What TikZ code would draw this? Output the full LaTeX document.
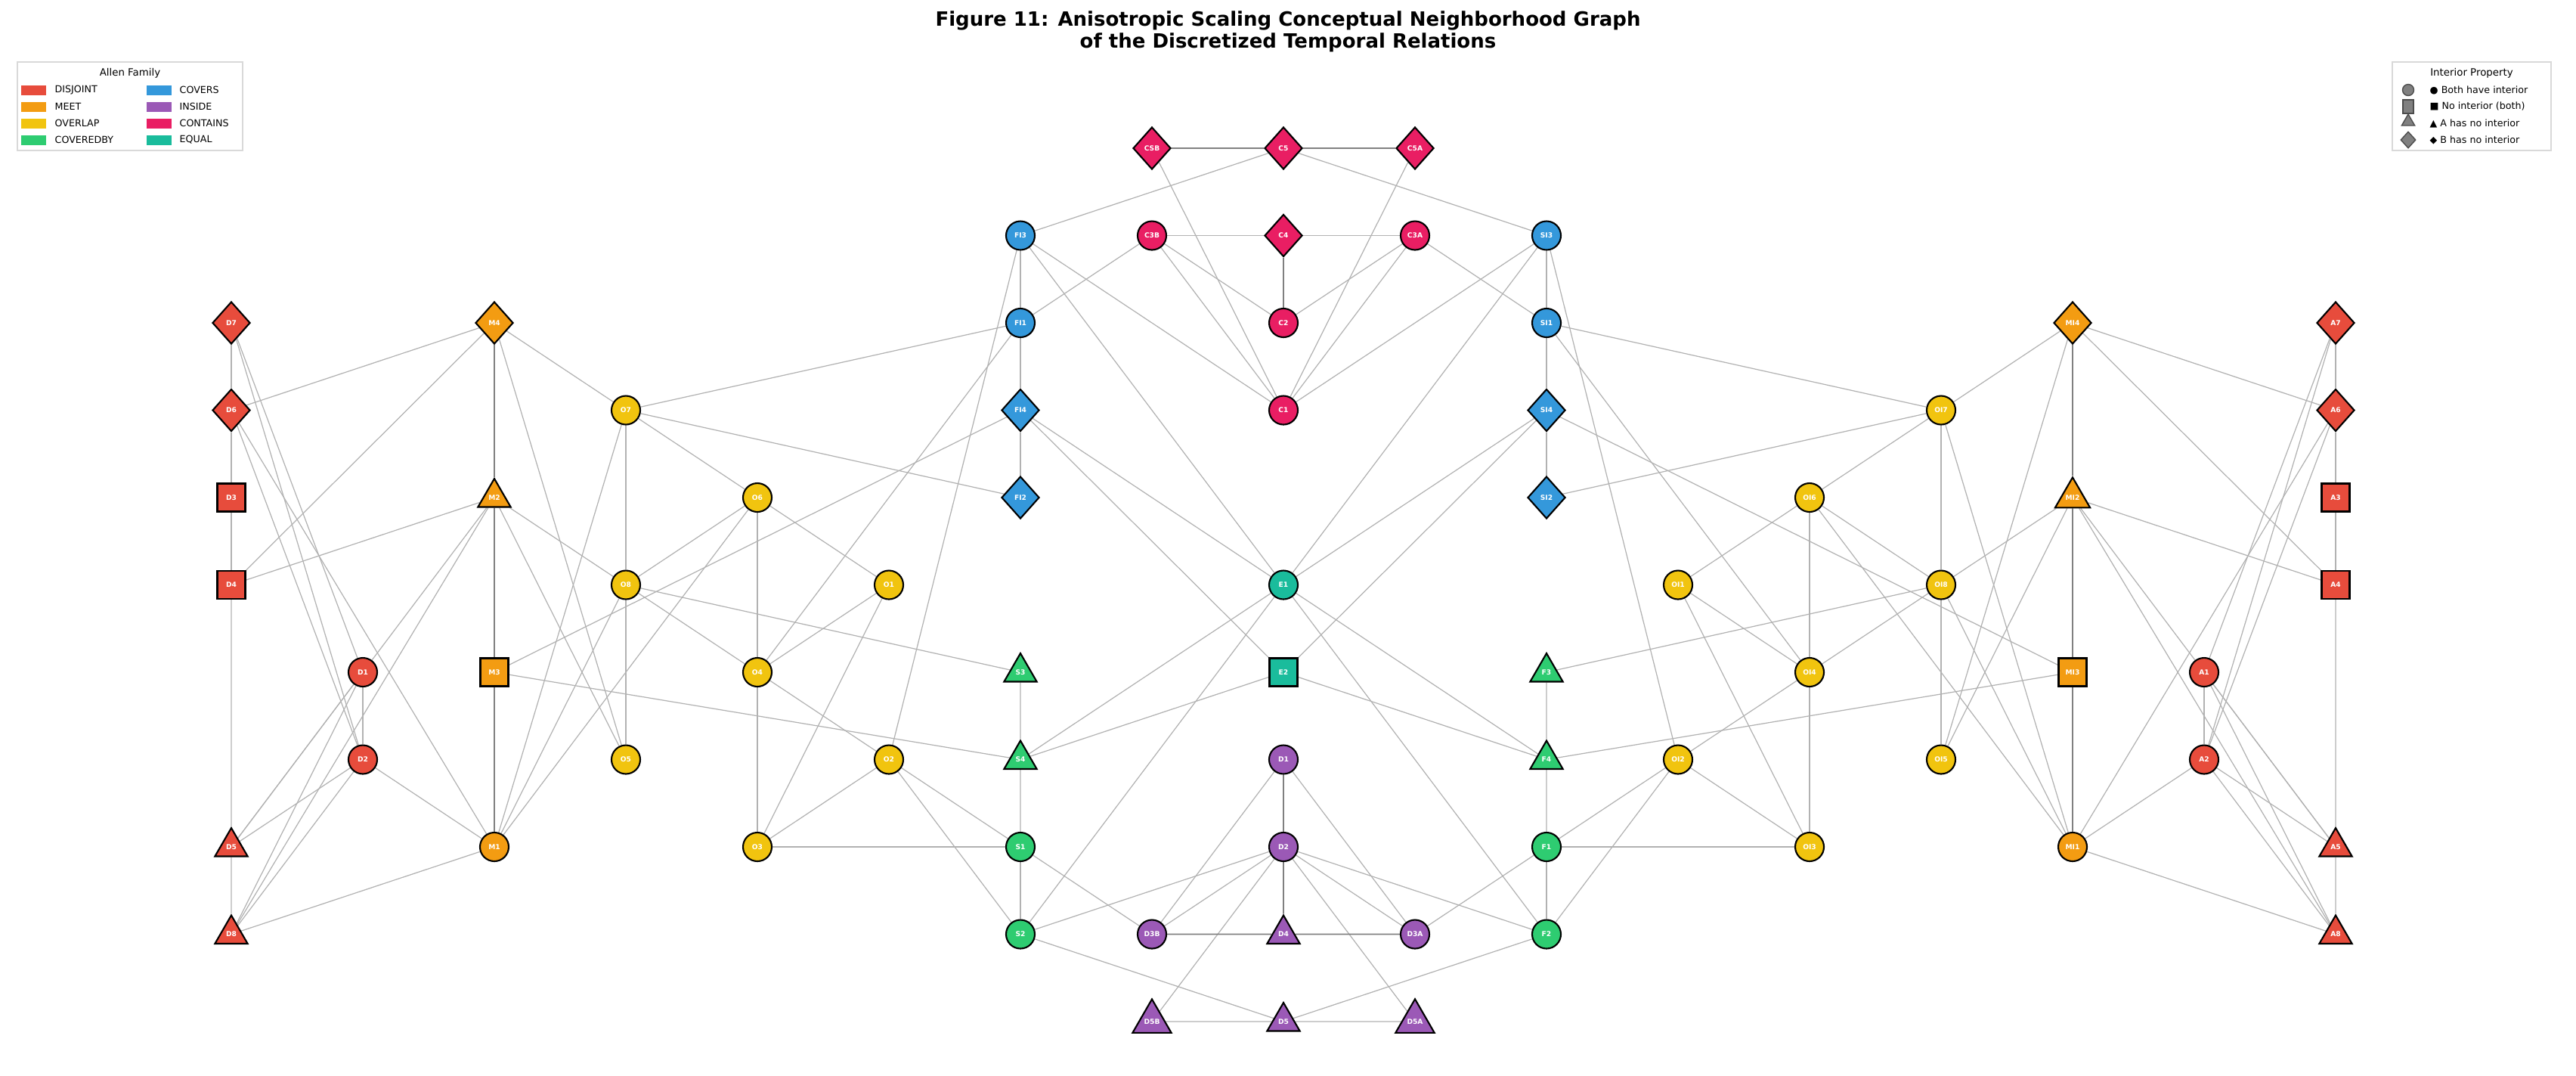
\documentclass[tikz,border=0pt]{standalone}
\usepackage{fontspec}
\setsansfont{DejaVu Sans}
\usetikzlibrary{shapes.geometric,backgrounds}
\definecolor{cRed}{HTML}{E74C3C}
\definecolor{cOra}{HTML}{F39C12}
\definecolor{cYel}{HTML}{F1C40F}
\definecolor{cGrn}{HTML}{2ECC71}
\definecolor{cBlu}{HTML}{3498DB}
\definecolor{cPur}{HTML}{9B59B6}
\definecolor{cPnk}{HTML}{E91E63}
\definecolor{cTea}{HTML}{1ABC9C}
\begin{document}
\begin{tikzpicture}[x=1cm,y=1cm,
 nd/.style={draw=black,line width=0.6pt,text=white,font=\fontsize{2.6}{3}\selectfont\bfseries\sffamily,inner sep=0pt},
 cir/.style={nd,circle,minimum size=0.38cm},
 sqr/.style={nd,rectangle,minimum size=0.37cm},
 dia/.style={nd,diamond,minimum width=0.5cm,minimum height=0.56cm},
 tri/.style={nd,regular polygon,regular polygon sides=3,minimum size=0.5cm},
 ed/.style={draw=gray!60,line width=0.35pt},
 edk/.style={draw=gray,line width=0.55pt},
 lg/.style={font=\fontsize{3.6}{4}\selectfont\sffamily,anchor=west,inner sep=0pt},
 sw/.style={minimum width=0.33cm,minimum height=0.13cm,inner sep=0pt}]
\useasboundingbox (0,0) rectangle (34.08,-14.22);
% title
\node[font=\fontsize{7.4}{8.4}\selectfont\bfseries\sffamily,align=center] (title) at (17.04,-0.42) {Figure 11: Anisotropic Scaling Conceptual Neighborhood Graph\\of the Discretized Temporal Relations};
% side nodes (left and mirrored right)
\foreach \n/\c/\r/\s/\f/\la/\lb in {
 d1/0/2/dia/cRed/D7/A7, d2/0/3/dia/cRed/D6/A6, d3/0/4/sqr/cRed/D3/A3, d4/0/5/sqr/cRed/D4/A4,
 d5/1/6/cir/cRed/D1/A1, d6/1/7/cir/cRed/D2/A2, d7/0/8/tri/cRed/D5/A5, d8/0/9/tri/cRed/D8/A8,
 m1/2/2/dia/cOra/M4/MI4, m2/2/4/tri/cOra/M2/MI2, m3/2/6/sqr/cOra/M3/MI3, m4/2/8/cir/cOra/M1/MI1,
 o1/3/3/cir/cYel/O7/OI7, o2/3/5/cir/cYel/O8/OI8, o3/3/7/cir/cYel/O5/OI5, o4/4/4/cir/cYel/O6/OI6,
 o5/4/6/cir/cYel/O4/OI4, o6/4/8/cir/cYel/O3/OI3, o7/5/5/cir/cYel/O1/OI1, o8/5/7/cir/cYel/O2/OI2,
 b1/6/1/cir/cBlu/FI3/SI3, b2/6/2/cir/cBlu/FI1/SI1, b3/6/3/dia/cBlu/FI4/SI4, b4/6/4/dia/cBlu/FI2/SI2,
 g1/6/6/tri/cGrn/S3/F3, g2/6/7/tri/cGrn/S4/F4, g3/6/8/cir/cGrn/S1/F1, g4/6/9/cir/cGrn/S2/F2}{
 \node[\s,fill=\f] (\n) at ({(306+174*\c)/100},{-(196+115.5*\r)/100}) {\la};
 \node[\s,fill=\f] (R\n) at ({(306+174*(16-\c))/100},{-(196+115.5*\r)/100}) {\lb};
}
% centre nodes
\node[dia,fill=cPnk,alias=Rp3] (p1) at (15.24,-1.96) {CSB};
\node[dia,fill=cPnk,alias=Rp2] (p2) at (16.98,-1.96) {C5};
\node[dia,fill=cPnk,alias=Rp1] (p3) at (18.72,-1.96) {C5A};
\node[cir,fill=cPnk,alias=Rp6] (p4) at (15.24,-3.115) {C3B};
\node[dia,fill=cPnk,alias=Rp5] (p5) at (16.98,-3.115) {C4};
\node[cir,fill=cPnk,alias=Rp4] (p6) at (18.72,-3.115) {C3A};
\node[cir,fill=cPnk,alias=Rp7] (p7) at (16.98,-4.27) {C2};
\node[cir,fill=cPnk,alias=Rp8] (p8) at (16.98,-5.425) {C1};
\node[cir,fill=cTea,alias=Re1] (e1) at (16.98,-7.735) {E1};
\node[sqr,fill=cTea,alias=Re2] (e2) at (16.98,-8.89) {E2};
\node[cir,fill=cPur,alias=Ri1] (i1) at (16.98,-10.045) {D1};
\node[cir,fill=cPur,alias=Ri2] (i2) at (16.98,-11.20) {D2};
\node[cir,fill=cPur,alias=Ri5] (i3) at (15.24,-12.355) {D3B};
\node[tri,fill=cPur,alias=Ri4] (i4) at (16.98,-12.355) {D4};
\node[cir,fill=cPur,alias=Ri3] (i5) at (18.72,-12.355) {D3A};
\node[tri,fill=cPur,alias=Ri8] (i6) at (15.24,-13.51) {D5B};
\node[tri,fill=cPur,alias=Ri7] (i7) at (16.98,-13.51) {D5};
\node[tri,fill=cPur,alias=Ri6] (i8) at (18.72,-13.51) {D5A};
\begin{pgfonlayer}{background}
\foreach \a/\b in {d1/d2,d2/d3,d3/d4,d4/d7,d7/d8,d2/m1,d1/d5,d1/d6,d2/d6,d2/m4,d5/d6,
 m1/d4,m1/o1,m1/o3,m2/d4,m2/o2,m2/d8,m2/o3,m2/d7,m3/b3,m3/g2,m4/d8,m4/d6,m4/o1,m4/o2,m4/o4,
 d7/d5,d7/d6,d8/d6,d8/d5,
 o1/o2,o2/o3,o1/o4,o1/b4,o1/b2,o2/o4,o2/o5,o2/g1,o4/o7,o4/o5,o5/o7,o5/o8,o5/o6,o7/o6,o8/o6,
 o8/g3,o8/g4,o6/g3,o5/b2,o8/b1,b1/b2,b2/b3,b3/b4,g1/g2,g2/g3,g3/g4,e1/g2,e1/g4,e2/g2,
 g3/i3,g4/i2,g4/i7,i1/i3,i2/i3,i2/i6,i6/i7,p2/b1,p1/p8,p4/p5,p4/p7,p4/b2,p4/p8,
 b1/p8,b1/e1,b3/e1,b3/e2}{
 \draw[ed] (\a) -- (\b);
 \draw[ed] (R\a) -- (R\b);
}
\foreach \a/\b in {m1/m2,m2/m3,m3/m4,p1/p2,p5/p7,i3/i4,i2/i4,i1/i2}{
 \draw[edk] (\a) -- (\b);
 \draw[edk] (R\a) -- (R\b);
}
\end{pgfonlayer}
% legend 1
\draw[gray!30,line width=0.6pt,fill=white] (0.23,-0.82) rectangle (3.21,-1.99);
\node[font=\fontsize{3.8}{4}\selectfont\sffamily] (lgt1) at (1.72,-0.97) {Allen Family};
\foreach \y/\ca/\ta/\cb/\tb in {1.19/cRed/DISJOINT/cBlu/COVERS,1.41/cOra/MEET/cPur/INSIDE,1.63/cYel/OVERLAP/cPnk/CONTAINS,1.85/cGrn/COVEREDBY/cTea/EQUAL}{
 \node[sw,fill=\ca] at (0.44,-\y) {};
 \node[lg] at (0.72,-\y) {\ta};
 \node[sw,fill=\cb] at (2.10,-\y) {};
 \node[lg] at (2.37,-\y) {\tb};
}
% legend 2
\draw[gray!30,line width=0.6pt,fill=white] (31.65,-0.82) rectangle (33.75,-1.99);
\node[font=\fontsize{3.8}{4}\selectfont\sffamily] (lgt2) at (32.70,-0.97) {Interior Property};
\node[draw=black!70,fill=gray,circle,minimum size=0.15cm,inner sep=0pt] at (31.86,-1.19) {};
\node[draw=black!70,fill=gray,rectangle,minimum width=0.14cm,minimum height=0.18cm,inner sep=0pt] at (31.86,-1.41) {};
\node[draw=black!70,fill=gray,regular polygon,regular polygon sides=3,minimum size=0.2cm,inner sep=0pt] at (31.86,-1.61) {};
\node[draw=black!70,fill=gray,diamond,minimum width=0.2cm,minimum height=0.22cm,inner sep=0pt] at (31.86,-1.85) {};
\node[lg] at (32.14,-1.19) {● Both have interior};
\node[lg] at (32.14,-1.41) {■ No interior (both)};
\node[lg] at (32.14,-1.63) {▲ A has no interior};
\node[lg] at (32.14,-1.85) {◆ B has no interior};
\end{tikzpicture}
\end{document}
